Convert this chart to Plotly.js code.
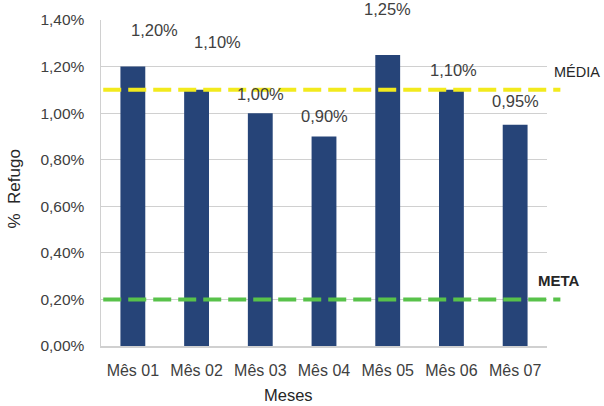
<!DOCTYPE html>
<html>
<head>
<meta charset="utf-8">
<script src="https://cdn.plot.ly/plotly-3.0.1.min.js"></script>
<style>html,body{margin:0;padding:0;background:#fff;}#chart{width:604px;height:406px;}</style>
</head>
<body>
<div id="chart"></div>
<script>
var months = ["Mês 01", "Mês 02", "Mês 03", "Mês 04", "Mês 05", "Mês 06", "Mês 07"];
var refugo = [1.20, 1.10, 1.00, 0.90, 1.25, 1.10, 0.95];
var media = 1.10;
var meta = 0.20;
var yTicks = [0, 0.2, 0.4, 0.6, 0.8, 1.0, 1.2, 1.4];

var FONT = "Liberation Sans, Arial, sans-serif";
var GRAY = "#404040";
function pct(v) { return v.toFixed(2).replace(".", ",") + "%"; }
// pixel offsets of each data label relative to its bar top (as in the reference)
var labelLift = [35, 46, 17, 18, 44, 18, 22];
var labelShift = [22, 21, 0, 0, 0, 2, 0];

var annotations = refugo.map(function (v, i) {
  return {
    x: months[i], y: v, xref: "x", yref: "y",
    text: pct(v),
    showarrow: false, yanchor: "bottom", yshift: labelLift[i] - 9, xshift: labelShift[i],
    font: {family: FONT, size: 16.5, color: GRAY}
  };
});
annotations.push({
  xref: "paper", yref: "y", x: 1.012, y: media, xanchor: "left", yanchor: "bottom", yshift: 8,
  text: "MÉDIA", showarrow: false, font: {family: FONT, size: 14.5, color: "#262626"}
});
annotations.push({
  xref: "paper", yref: "y", x: 0.976, y: meta, xanchor: "left", yanchor: "bottom", yshift: 8,
  text: "<b>META</b>", showarrow: false, font: {family: FONT, size: 15, color: "#262626"}
});
annotations.push({
  xref: "paper", yref: "paper", x: 0, xshift: -86, xanchor: "center", y: 0.48, textangle: -90,
  text: "%  Refugo", showarrow: false, font: {family: FONT, size: 17, color: "#262626"}
});
annotations.push({
  xref: "paper", yref: "paper", x: 0.42, y: 0, yshift: -49, yanchor: "middle",
  text: "Meses", showarrow: false, font: {family: FONT, size: 16.5, color: "#262626"}
});

var data = [{
  type: "bar", x: months, y: refugo,
  marker: {color: "#264478"},
  hoverinfo: "x+y"
}];

var layout = {
  width: 604, height: 406,
  margin: {l: 101, r: 57, t: 20, b: 60},
  paper_bgcolor: "#fff", plot_bgcolor: "#fff",
  separators: ",.",
  bargap: 0.61,
  showlegend: false,
  xaxis: {
    type: "category", showgrid: false, showline: true, linecolor: "#D0D0D0", linewidth: 1.5,
    ticks: "", tickfont: {family: FONT, size: 16, color: GRAY}, ticklabelstandoff: 9
  },
  yaxis: {
    range: [0, 1.4], tickmode: "array", tickvals: yTicks, ticktext: yTicks.map(pct),
    showgrid: true, gridcolor: "#D0D0D0", gridwidth: 1,
    showline: true, linecolor: "#D0D0D0", linewidth: 1.5, zeroline: false,
    ticks: "", tickfont: {family: FONT, size: 15.5, color: GRAY}, ticklabelstandoff: 12
  },
  shapes: [
    {type: "line", xref: "paper", yref: "y", x0: 0.005, x1: 1.03, y0: media, y1: media,
     line: {color: "#F2EA1D", width: 4, dash: "18px,7px"}},
    {type: "line", xref: "paper", yref: "y", x0: 0.005, x1: 1.03, y0: meta, y1: meta,
     line: {color: "#58C24A", width: 4, dash: "18px,7px"}}
  ],
  annotations: annotations
};

Plotly.newPlot("chart", data, layout, {displayModeBar: false, staticPlot: true});
</script>
</body>
</html>
